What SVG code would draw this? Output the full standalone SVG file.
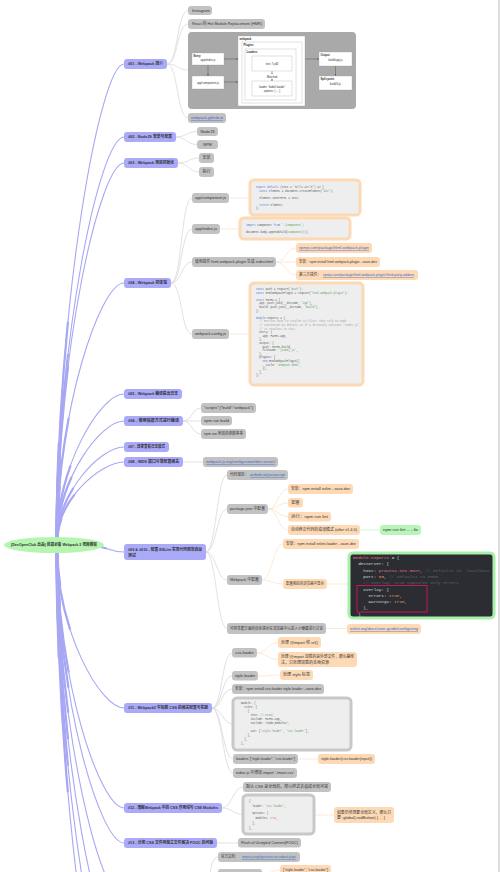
<svg xmlns="http://www.w3.org/2000/svg" width="500" height="872" viewBox="0 0 500 872">
<defs>
<style>
.t{font-family:"Liberation Sans","Noto Sans CJK SC",sans-serif;font-size:4px;fill:#333}
.tb{font-family:"Liberation Sans","Noto Sans CJK SC",sans-serif;font-size:4px;fill:#333;font-weight:bold}
.lk{fill:#3a68c8;text-decoration:underline}
.s{font-family:"Liberation Sans",sans-serif;font-size:2.8px;fill:#333}
.sb{font-family:"Liberation Sans",sans-serif;font-size:2.8px;fill:#333;font-weight:bold}
.p{fill:#aaaaf8}
.g{fill:#c2c2c2}
.o{fill:#fdd9b5}
.gn{fill:#b8f5b8}
.cp{fill:none;stroke:#a7a7f4;stroke-width:1.1}
.cp2{fill:none;stroke:#a7a7f4;stroke-width:2.2;stroke-dasharray:45 200}
.cp3{fill:none;stroke:#a7a7f4;stroke-width:3.2;stroke-dasharray:20 200}
.cg{fill:none;stroke:#d9d9d9;stroke-width:0.8}
.co{fill:none;stroke:#fde3ca;stroke-width:0.8}
.cgn{fill:none;stroke:#c8f5c8;stroke-width:0.8}
.cb{fill:#eeeeee;stroke:#fcd9b4;stroke-width:3}
.cbg{fill:#eeeeee;stroke:#c8c8c8;stroke-width:3}
.c{font-family:"Liberation Mono",monospace;font-size:2.7px;fill:#555;white-space:pre}
.k{fill:#4a7bd0}
.st{fill:#58a05a}
.cm{fill:#a0a1a7}
.d{font-family:"Liberation Mono",monospace;font-size:4.3px;fill:#d8d8d8;white-space:pre}
.box{fill:#fff;stroke:#9a9a9a;stroke-width:0.3}
.ar{fill:none;stroke:#444;stroke-width:0.4;marker-end:url(#ah)}
</style>
<marker id="ah" viewBox="0 0 6 6" refX="5" refY="3" markerWidth="4" markerHeight="4" orient="auto"><path d="M0,0 L6,3 L0,6 z" fill="#444"/></marker>
</defs>
<rect width="500" height="872" fill="#fff"/>
<line x1="499" y1="0" x2="499" y2="872" stroke="#bbb" stroke-width="1"/>

<g id="connectors">
<g id="root-links">
<path class="cp" d="M57 540 C57 302 100 64 124 64"/>
<path class="cp" d="M57 540 C57 338 100 137 124 137"/>
<path class="cp" d="M57 540 C57 352 100 163 124 163"/>
<path class="cp" d="M57 540 C57 412 100 283 124 283"/>
<path class="cp" d="M57 540 C57 467 100 394 124 394"/>
<path class="cp" d="M57 540 C57 481 100 421 124 421"/>
<path class="cp" d="M57 540 C57 494 100 447 124 447"/>
<path class="cp" d="M57 540 C57 501 100 462 124 462"/>
<path class="cp" d="M92 546 C108 546 108 552 124 552"/>
<path class="cp" d="M57 550 C57 629 100 708 124 708"/>
<path class="cp" d="M57 550 C57 679 100 808 124 808"/>
<path class="cp" d="M57 550 C57 697 100 843 124 843"/>
<path class="cp" d="M57 550 C57 725 100 900 124 900"/>
<path class="cp" d="M57 550 C57 755 100 960 124 960"/>
<path class="cp" d="M57 550 C57 785 100 1020 124 1020"/>
<path class="cp" d="M57 550 C57 815 100 1080 124 1080"/>
<path class="cp2" pathLength="100" d="M57 540 C57 302 100 64 124 64"/>
<path class="cp2" pathLength="100" d="M57 540 C57 338 100 137 124 137"/>
<path class="cp2" pathLength="100" d="M57 540 C57 352 100 163 124 163"/>
<path class="cp2" pathLength="100" d="M57 540 C57 412 100 283 124 283"/>
<path class="cp2" pathLength="100" d="M57 540 C57 467 100 394 124 394"/>
<path class="cp2" pathLength="100" d="M57 540 C57 481 100 421 124 421"/>
<path class="cp2" pathLength="100" d="M57 540 C57 494 100 447 124 447"/>
<path class="cp2" pathLength="100" d="M57 540 C57 501 100 462 124 462"/>
<path class="cp2" pathLength="100" d="M92 546 C108 546 108 552 124 552"/>
<path class="cp2" pathLength="100" d="M57 550 C57 629 100 708 124 708"/>
<path class="cp2" pathLength="100" d="M57 550 C57 679 100 808 124 808"/>
<path class="cp2" pathLength="100" d="M57 550 C57 697 100 843 124 843"/>
<path class="cp2" pathLength="100" d="M57 550 C57 725 100 900 124 900"/>
<path class="cp2" pathLength="100" d="M57 550 C57 755 100 960 124 960"/>
<path class="cp2" pathLength="100" d="M57 550 C57 785 100 1020 124 1020"/>
<path class="cp2" pathLength="100" d="M57 550 C57 815 100 1080 124 1080"/>
<path class="cp3" pathLength="100" d="M57 540 C57 302 100 64 124 64"/>
<path class="cp3" pathLength="100" d="M57 540 C57 338 100 137 124 137"/>
<path class="cp3" pathLength="100" d="M57 540 C57 352 100 163 124 163"/>
<path class="cp3" pathLength="100" d="M57 540 C57 412 100 283 124 283"/>
<path class="cp3" pathLength="100" d="M57 540 C57 467 100 394 124 394"/>
<path class="cp3" pathLength="100" d="M57 540 C57 481 100 421 124 421"/>
<path class="cp3" pathLength="100" d="M57 540 C57 494 100 447 124 447"/>
<path class="cp3" pathLength="100" d="M57 540 C57 501 100 462 124 462"/>
<path class="cp3" pathLength="100" d="M57 550 C57 629 100 708 124 708"/>
<path class="cp3" pathLength="100" d="M57 550 C57 679 100 808 124 808"/>
<path class="cp3" pathLength="100" d="M57 550 C57 697 100 843 124 843"/>
<path class="cp3" pathLength="100" d="M57 550 C57 725 100 900 124 900"/>
<path class="cp3" pathLength="100" d="M57 550 C57 755 100 960 124 960"/>
<path class="cp3" pathLength="100" d="M57 550 C57 785 100 1020 124 1020"/>
<path class="cp3" pathLength="100" d="M57 550 C57 815 100 1080 124 1080"/>
</g>
<path class="cg" d="M167 64 C178 64 177 10.5 188 10.5"/>
<path class="cg" d="M167 64 C178 64 177 24 188 24"/>
<path class="cg" d="M167 64 C178 64 177 70 188 70"/>
<path class="cg" d="M167 64 C178 64 177 118 188 118"/>
<path class="cg" d="M176 137 C186 137 187 131.5 197 131.5"/>
<path class="cg" d="M176 137 C186 137 187 144.5 197 144.5"/>
<path class="cg" d="M178 163 C188 163 189 158 199 158"/>
<path class="cg" d="M178 163 C188 163 189 172 199 172"/>
<path class="cg" d="M171 283 C182 283 181 198 192 198"/>
<path class="cg" d="M171 283 C182 283 181 229 192 229"/>
<path class="cg" d="M171 283 C182 283 181 262 192 262"/>
<path class="cg" d="M171 283 C182 283 181 334 192 334"/>
<path class="co" d="M229 198 L250 198"/>
<path class="co" d="M220 229 L240 229"/>
<path class="co" d="M229 334 L250 334"/>
<path class="co" d="M276 262 C286 262 286 248 296 248"/>
<path class="co" d="M276 262 L296 262"/>
<path class="co" d="M276 262 C286 262 286 275 296 275"/>
<path class="cg" d="M183 421 C192 421 192 408 201 408"/>
<path class="cg" d="M183 421 L201 421"/>
<path class="cg" d="M183 421 C192 421 192 434 201 434"/>
<path class="cg" d="M183 462 L203 462"/>
<path class="cg" d="M206 552 C216 552 217 475 227 475"/>
<path class="cg" d="M206 552 C216 552 217 509 227 509"/>
<path class="cg" d="M206 552 C216 552 217 580 227 580"/>
<path class="cg" d="M206 552 C216 552 217 628.5 227 628.5"/>
<path class="co" d="M268 509 C278 509 278 489 288 489"/>
<path class="co" d="M268 509 C278 509 278 503 288 503"/>
<path class="co" d="M268 509 C278 509 278 516.5 288 516.5"/>
<path class="co" d="M268 509 C278 509 278 530 288 530"/>
<path class="cgn" d="M360 530 L380 530"/>
<path class="co" d="M262 580 C272 580 273 544 283 544"/>
<path class="co" d="M262 580 C272 580 273 584 283 584"/>
<path class="co" d="M327 584 L349 584"/>
<path class="co" d="M326 628.5 L347 628.5"/>
<path class="cg" d="M212 708 C222 708 222 653 232 653"/>
<path class="cg" d="M212 708 C222 708 222 676 232 676"/>
<path class="cg" d="M212 708 C222 708 222 689 232 689"/>
<path class="cg" d="M212 708 C222 708 223 724 233 724"/>
<path class="cg" d="M212 708 C222 708 223 759 233 759"/>
<path class="cg" d="M212 708 C222 708 223 773 233 773"/>
<path class="co" d="M257 653 C267 653 268 642.5 278 642.5"/>
<path class="co" d="M257 653 C267 653 268 659.5 278 659.5"/>
<path class="co" d="M258 676 C269 676 269 675 280 675"/>
<path class="co" d="M298 759 L318 759"/>
<path class="cg" d="M222 808 C232 808 233 787 243 787"/>
<path class="cg" d="M222 808 C232 808 233 814.5 243 814.5"/>
<path class="co" d="M314 815 L334 815"/>
<path class="cg" d="M217 843 L238 843"/>
<path class="cg" d="M205 900 C210 880 210 857 218 857"/>
<path class="co" d="M262 874 C270 874 272 870 280 870"/>
</g>

<g id="root">
<ellipse cx="54" cy="545" rx="50" ry="8" fill="#b6f5b0"/>
<text class="tb" x="54" y="546.4" text-anchor="middle" textLength="86" lengthAdjust="spacingAndGlyphs">[DevOpenClub 出品] 前端必备 Webpack 2 视频教程</text>
</g>

<g id="n01"><rect class="p" x="124" y="59" width="43" height="10" rx="3"/><text class="tb" x="128" y="65.4" textLength="35" lengthAdjust="spacingAndGlyphs">#01 - Webpack 简介</text></g>
<g id="n01-instagram"><rect class="g" x="188" y="6" width="24" height="9" rx="3"/><text class="t" x="192" y="11.9">Instagram</text></g>
<g id="n01-hmr"><rect class="g" x="188" y="19" width="77" height="10" rx="3"/><text class="t" x="192" y="25.4" textLength="70" lengthAdjust="spacingAndGlyphs">React 的 Hot Module Replacement (HMR)</text></g>
<g id="n01-diagram">
<rect x="188" y="32" width="168" height="77" rx="4" fill="#a9a9a9"/>
<rect class="box" x="192" y="53" width="32" height="12"/>
<text class="sb" x="193.5" y="56.5">Entry</text>
<text class="s" x="208" y="61" text-anchor="middle">app/index.js</text>
<rect class="box" x="192" y="76" width="32" height="13"/>
<text class="s" x="208" y="83.5" text-anchor="middle">app/component.js</text>
<line class="ar" x1="208" y1="65" x2="208" y2="75.5"/>
<line class="ar" x1="224" y1="59" x2="237.5" y2="59"/>
<line class="ar" x1="224" y1="82" x2="237.5" y2="82"/>
<rect class="box" x="238" y="36" width="67" height="70"/>
<text class="sb" x="239.5" y="39.5">webpack</text>
<rect class="box" x="242" y="42" width="60" height="61"/>
<text class="sb" x="243.5" y="45.5">Plugins</text>
<rect class="box" x="245" y="49" width="51" height="51"/>
<text class="sb" x="246.5" y="52.5">Loaders</text>
<rect class="box" x="252" y="56" width="40" height="15"/>
<text class="s" x="272" y="64.5" text-anchor="middle">test: /\.js$/</text>
<line class="ar" x1="272" y1="71" x2="272" y2="74"/>
<text class="s" x="272" y="77.5" text-anchor="middle">Matched</text>
<line class="ar" x1="272" y1="78.5" x2="272" y2="80.8"/>
<rect class="box" x="252" y="81" width="40" height="15"/>
<text class="s" x="272" y="87.5" text-anchor="middle">loader: 'babel-loader'</text>
<text class="s" x="272" y="91.5" text-anchor="middle">options: { ... }</text>
<line class="ar" x1="305" y1="59" x2="318.5" y2="59"/>
<rect class="box" x="319" y="52" width="33" height="14"/>
<text class="sb" x="320.5" y="55.5">Output</text>
<text class="s" x="335.5" y="61" text-anchor="middle">build/app.js</text>
<line class="ar" x1="335.5" y1="66" x2="335.5" y2="75.5"/>
<rect class="box" x="319" y="76" width="33" height="14"/>
<text class="sb" x="320.5" y="79.5">Split point</text>
<text class="s" x="335.5" y="85" text-anchor="middle">build/0.js</text>
</g>
<g id="n01-link"><rect class="g" x="188" y="113" width="38" height="10" rx="3"/><text class="t lk" x="191" y="119.4" textLength="32" lengthAdjust="spacingAndGlyphs">webpack.github.io</text></g>

<g id="n02"><rect class="p" x="124" y="132" width="52" height="10" rx="3"/><text class="tb" x="128" y="138.4" textLength="44" lengthAdjust="spacingAndGlyphs">#02 - NodeJS 安装与配置</text></g>
<g id="n02-node"><rect class="g" x="197" y="127" width="21" height="9" rx="3"/><text class="t" x="207.5" y="132.9" text-anchor="middle">NodeJS</text></g>
<g id="n02-npm"><rect class="g" x="197" y="140" width="21" height="9" rx="3"/><text class="t" x="207.5" y="145.9" text-anchor="middle">NPM</text></g>

<g id="n03"><rect class="p" x="124" y="158" width="54" height="10" rx="3"/><text class="tb" x="128" y="164.4" textLength="46" lengthAdjust="spacingAndGlyphs">#03 - Webpack 项目初始化</text></g>
<g id="n03-a"><rect class="g" x="199" y="153" width="15" height="10" rx="3"/><text class="t" x="206.5" y="159.4" text-anchor="middle">安装</text></g>
<g id="n03-b"><rect class="g" x="199" y="167" width="15" height="10" rx="3"/><text class="t" x="206.5" y="173.4" text-anchor="middle">执行</text></g>

<g id="n04"><rect class="p" x="124" y="278" width="47" height="10" rx="3"/><text class="tb" x="128" y="284.4" textLength="39" lengthAdjust="spacingAndGlyphs">#04 - Webpack 初体验</text></g>
<g id="n04-comp"><rect class="g" x="192" y="193" width="37" height="10" rx="3"/><text class="t" x="195" y="199.4" textLength="31" lengthAdjust="spacingAndGlyphs">app/component.js</text></g>
<g id="n04-comp-code">
<rect class="cb" x="250" y="180" width="110" height="35" rx="4"/>
<text class="c" x="256" y="188"><tspan class="k">export default</tspan> (text = <tspan class="st">'Hello world'</tspan>) =&gt; {</text>
<text class="c" x="256" y="191.5">  <tspan class="k">const</tspan> element = document.createElement(<tspan class="st">'div'</tspan>);</text>
<text class="c" x="256" y="198.5">  element.innerHTML = text;</text>
<text class="c" x="256" y="205.5">  <tspan class="k">return</tspan> element;</text>
<text class="c" x="256" y="209">};</text>
</g>
<g id="n04-index"><rect class="g" x="192" y="224" width="28" height="10" rx="3"/><text class="t" x="195" y="230.4" textLength="22" lengthAdjust="spacingAndGlyphs">app/index.js</text></g>
<g id="n04-index-code">
<rect class="cb" x="240" y="218" width="110" height="21" rx="4"/>
<text class="c" x="246" y="225.5"><tspan class="k">import</tspan> component <tspan class="k">from</tspan> <tspan class="st">'./component'</tspan>;</text>
<text class="c" x="246" y="233">document.body.appendChild(<tspan class="st">component()</tspan>);</text>
</g>
<g id="n04-plugin"><rect class="g" x="192" y="257" width="84" height="10" rx="3"/><text class="t" x="195" y="263.4" textLength="78" lengthAdjust="spacingAndGlyphs">使用插件 html-webpack-plugin 生成 index.html</text></g>
<g id="n04-plugin-link"><rect class="o" x="296" y="243" width="76" height="10" rx="3"/><text class="t lk" x="299" y="249.4" textLength="70" lengthAdjust="spacingAndGlyphs">npmjs.com/package/html-webpack-plugin</text></g>
<g id="n04-plugin-install"><rect class="o" x="296" y="257" width="84" height="10" rx="3"/><text class="t" x="299" y="263.4" textLength="78" lengthAdjust="spacingAndGlyphs">安装：npm install html-webpack-plugin --save-dev</text></g>
<g id="n04-plugin-third"><rect class="o" x="296" y="270" width="122" height="10" rx="3"/><text class="t" x="299" y="276.4" textLength="22" lengthAdjust="spacingAndGlyphs">第三方插件：</text><text class="t lk" x="323" y="276.4" textLength="91" lengthAdjust="spacingAndGlyphs">npmjs.com/package/html-webpack-plugin#third-party-addons</text></g>
<g id="n04-config"><rect class="g" x="192" y="329" width="37" height="10" rx="3"/><text class="t" x="195" y="335.4" textLength="31" lengthAdjust="spacingAndGlyphs">webpack.config.js</text></g>
<g id="n04-config-code">
<rect class="cb" x="250" y="283" width="113" height="102" rx="4"/>
<text class="c" x="256" y="290"><tspan class="k">const</tspan> path = require(<tspan class="st">'path'</tspan>);</text>
<text class="c" x="256" y="293.6"><tspan class="k">const</tspan> HtmlWebpackPlugin = require(<tspan class="st">'html-webpack-plugin'</tspan>);</text>
<text class="c" x="256" y="300.8"><tspan class="k">const</tspan> PATHS = {</text>
<text class="c" x="256" y="304.4">  app: path.join(__dirname, <tspan class="st">'app'</tspan>),</text>
<text class="c" x="256" y="308">  build: path.join(__dirname, <tspan class="st">'build'</tspan>),</text>
<text class="c" x="256" y="311.6">};</text>
<text class="c" x="256" y="318.8"><tspan class="k">module</tspan>.exports = {</text>
<text class="c cm" x="256" y="322.4">  // Entries have to resolve to files! They rely on Node</text>
<text class="c cm" x="256" y="326">  // convention by default so if a directory contains *index.js*,</text>
<text class="c cm" x="256" y="329.6">  // it resolves to that.</text>
<text class="c" x="256" y="333.2">  entry: {</text>
<text class="c" x="256" y="336.8">    app: PATHS.app,</text>
<text class="c" x="256" y="340.4">  },</text>
<text class="c" x="256" y="344">  output: {</text>
<text class="c" x="256" y="347.6">    path: PATHS.build,</text>
<text class="c" x="256" y="351.2">    filename: <tspan class="st">'[name].js'</tspan>,</text>
<text class="c" x="256" y="354.8">  },</text>
<text class="c" x="256" y="358.4">  plugins: [</text>
<text class="c" x="256" y="362">    <tspan class="k">new</tspan> HtmlWebpackPlugin({</text>
<text class="c" x="256" y="365.6">      title: <tspan class="st">'Webpack demo'</tspan>,</text>
<text class="c" x="256" y="369.2">    }),</text>
<text class="c" x="256" y="372.8">  ],</text>
<text class="c" x="256" y="376.4">};</text>
</g>

<g id="n05"><rect class="p" x="124" y="389" width="58" height="10" rx="3"/><text class="tb" x="128" y="395.4" textLength="50" lengthAdjust="spacingAndGlyphs">#05 - Webpack 编译输出日志</text></g>

<g id="n06"><rect class="p" x="124" y="416" width="59" height="10" rx="3"/><text class="tb" x="128" y="422.4" textLength="51" lengthAdjust="spacingAndGlyphs">#06 - 使用快捷方式进行编译</text></g>
<g id="n06-a"><rect class="g" x="201" y="403" width="55" height="10" rx="3"/><text class="t" x="204" y="409.4" textLength="49" lengthAdjust="spacingAndGlyphs">"scripts":{"build":"webpack"}</text></g>
<g id="n06-b"><rect class="g" x="201" y="416" width="31" height="9.5" rx="3"/><text class="t" x="204" y="422.2" textLength="25" lengthAdjust="spacingAndGlyphs">npm run build</text></g>
<g id="n06-c"><rect class="g" x="201" y="429" width="45" height="10" rx="3"/><text class="t" x="204" y="435.4" textLength="39" lengthAdjust="spacingAndGlyphs">npm run 附加的参数等等</text></g>

<g id="n07"><rect class="p" x="124" y="442" width="45" height="10" rx="3"/><text class="tb" x="128" y="448.4" textLength="37" lengthAdjust="spacingAndGlyphs">#07 - 改变查看日志模式</text></g>

<g id="n08"><rect class="p" x="124" y="457" width="59" height="10" rx="3"/><text class="tb" x="128" y="463.4" textLength="51" lengthAdjust="spacingAndGlyphs">#08 - WDS 端口号等配置相关</text></g>
<g id="n08-link"><rect class="g" x="203" y="457" width="75" height="10" rx="3"/><text class="t lk" x="206" y="463.4" textLength="69" lengthAdjust="spacingAndGlyphs">webpack.js.org/configuration/dev-server/</text></g>

<g id="n09"><rect class="p" x="124" y="544" width="82" height="16" rx="3"/><text class="tb" x="128" y="550.5" textLength="74" lengthAdjust="spacingAndGlyphs">#09 &amp; #010 - 配置 ESLint 实现代码规范自动</text><text class="tb" x="128" y="556.5">测试</text></g>
<g id="n09-std"><rect class="g" x="227" y="470" width="61" height="10" rx="3"/><text class="t" x="230" y="476.4" textLength="18" lengthAdjust="spacingAndGlyphs">代码规范：</text><text class="t lk" x="250" y="476.4" textLength="35" lengthAdjust="spacingAndGlyphs">airbnb.io/javascript</text></g>
<g id="n09-pkg"><rect class="g" x="227" y="504" width="41" height="10" rx="3"/><text class="t" x="230" y="510.4" textLength="35" lengthAdjust="spacingAndGlyphs">package.json 中配置</text></g>
<g id="n09-pkg-a"><rect class="o" x="288" y="484" width="65" height="10" rx="3"/><text class="t" x="291" y="490.4" textLength="59" lengthAdjust="spacingAndGlyphs">安装：npm install eslint --save-dev</text></g>
<g id="n09-pkg-b"><rect class="o" x="288" y="498" width="15" height="9.5" rx="3"/><text class="t" x="295.5" y="504.2" text-anchor="middle">配置</text></g>
<g id="n09-pkg-c"><rect class="o" x="288" y="512" width="43" height="9.5" rx="3"/><text class="t" x="291" y="518.2" textLength="37" lengthAdjust="spacingAndGlyphs">运行：npm run lint</text></g>
<g id="n09-pkg-d"><rect class="o" x="288" y="525" width="72" height="10" rx="3"/><text class="t" x="291" y="531.4" textLength="66" lengthAdjust="spacingAndGlyphs">自动修正代码的错误模式 (after v1.4.0)</text></g>
<g id="n09-fix"><rect class="gn" x="380" y="525" width="41" height="10" rx="3"/><text class="t" x="383" y="531.4" textLength="35" lengthAdjust="spacingAndGlyphs">npm run lint -- --fix</text></g>
<g id="n09-wp"><rect class="g" x="227" y="575" width="35" height="10" rx="3"/><text class="t" x="230" y="581.4" textLength="29" lengthAdjust="spacingAndGlyphs">Webpack 中配置</text></g>
<g id="n09-wp-a"><rect class="o" x="283" y="539" width="76" height="10" rx="3"/><text class="t" x="286" y="545.4" textLength="70" lengthAdjust="spacingAndGlyphs">安装：npm install eslint-loader --save-dev</text></g>
<g id="n09-wp-b"><rect class="o" x="283" y="579" width="44" height="10" rx="3"/><text class="t" x="286" y="585.4" textLength="38" lengthAdjust="spacingAndGlyphs">配置相应的浏览器中显示</text></g>
<g id="n09-wp-code">
<rect x="349" y="553" width="145" height="65" rx="4" fill="#2b2d33" stroke="#a8f0a8" stroke-width="3"/>
<text class="d" x="353" y="559"><tspan fill="#e0728a">module.exports</tspan> = {</text>
<text class="d" x="353" y="565.3">  devServer: {</text>
<text class="d" x="353" y="571.6">    host: <tspan fill="#e0728a">process.env.HOST</tspan>, <tspan fill="#5c6370">// Defaults to `localhost`</tspan></text>
<text class="d" x="353" y="577.9">    port: <tspan fill="#e59a5c">80</tspan>, <tspan fill="#5c6370">// Defaults to 8080</tspan></text>
<text class="d" x="353" y="584.2">    <tspan fill="#5c6370">// overlay: true captures only errors</tspan></text>
<text class="d" x="353" y="590.5">    overlay: {</text>
<text class="d" x="353" y="596.8">      errors: <tspan fill="#e59a5c">true</tspan>,</text>
<text class="d" x="353" y="603.1">      warnings: <tspan fill="#e59a5c">true</tspan>,</text>
<text class="d" x="353" y="609.4">    },</text>
<text class="d" x="353" y="615.7">  },</text>
<rect x="357" y="585.5" width="70" height="26.5" fill="none" stroke="#c2185b" stroke-width="1"/>
</g>
<g id="n09-perf"><rect class="g" x="227" y="623" width="99" height="11" rx="3"/><text class="t" x="230" y="629.9" textLength="93" lengthAdjust="spacingAndGlyphs">可将性能方面的优化提示在浏览器中以进入小便捷进行讨论</text></g>
<g id="n09-perf-link"><rect class="o" x="347" y="624" width="74" height="10" rx="3"/><text class="t lk" x="350" y="630.4" textLength="68" lengthAdjust="spacingAndGlyphs">eslint.org/docs/user-guide/configuring</text></g>

<g id="n11"><rect class="p" x="124" y="703" width="88" height="10" rx="3"/><text class="tb" x="128" y="709.4" textLength="80" lengthAdjust="spacingAndGlyphs">#11 - Webpack2 中加载 CSS 的相关配置与实践</text></g>
<g id="n11-css"><rect class="g" x="232" y="648" width="25" height="9.5" rx="3"/><text class="t" x="244.5" y="654.2" text-anchor="middle">css-loader</text></g>
<g id="n11-css-a"><rect class="o" x="278" y="637" width="43" height="11" rx="3"/><text class="t" x="281" y="643.9" textLength="37" lengthAdjust="spacingAndGlyphs">处理 @import 和 url()</text></g>
<g id="n11-css-b"><rect class="o" x="278" y="652" width="79" height="15" rx="3"/><text class="t" x="281" y="658.2" textLength="73" lengthAdjust="spacingAndGlyphs">处理 @import 加载的是外部文件，那么路径</text><text class="t" x="281" y="663.6">注，只处理加载的本地资源</text></g>
<g id="n11-style"><rect class="g" x="232" y="671" width="26" height="9.5" rx="3"/><text class="t" x="245" y="677.2" text-anchor="middle">style-loader</text></g>
<g id="n11-style-a"><rect class="o" x="280" y="670" width="33" height="10" rx="3"/><text class="t" x="283" y="676.4" textLength="27" lengthAdjust="spacingAndGlyphs">处理 style 标签</text></g>
<g id="n11-install"><rect class="g" x="232" y="684" width="92" height="10" rx="3"/><text class="t" x="235" y="690.4" textLength="86" lengthAdjust="spacingAndGlyphs">安装：npm install css-loader style-loader --save-dev</text></g>
<g id="n11-code">
<rect class="cbg" x="233" y="698" width="118" height="52" rx="4"/>
<text class="c" x="241" y="704">module: {</text>
<text class="c" x="241" y="708">  rules: [</text>
<text class="c" x="241" y="712">    {</text>
<text class="c" x="241" y="716">      test: <tspan class="st">/\.css$/</tspan>,</text>
<text class="c" x="241" y="720">      include: PATHS.app,</text>
<text class="c" x="241" y="724">      exclude: /node_modules/,</text>
<text class="c" x="241" y="732">      use: [<tspan class="st">'style-loader'</tspan>, <tspan class="st">'css-loader'</tspan>],</text>
<text class="c" x="241" y="736">    },</text>
<text class="c" x="241" y="740">  ],</text>
<text class="c" x="241" y="744">},</text>
</g>
<g id="n11-loaders"><rect class="g" x="233" y="754" width="65" height="10" rx="3"/><text class="t" x="236" y="760.4" textLength="59" lengthAdjust="spacingAndGlyphs">loaders: ["style-loader", "css-loader"]</text></g>
<g id="n11-loaders-a"><rect class="o" x="318" y="754" width="57" height="10" rx="3"/><text class="t" x="321" y="760.4" textLength="51" lengthAdjust="spacingAndGlyphs">style.loader(css.loader(input))</text></g>
<g id="n11-index"><rect class="g" x="233" y="768" width="64" height="10" rx="3"/><text class="t" x="236" y="774.4" textLength="58" lengthAdjust="spacingAndGlyphs">index.js 中增加 import './main.css'</text></g>

<g id="n12"><rect class="p" x="124" y="803" width="98" height="10" rx="3"/><text class="tb" x="128" y="809.4" textLength="90" lengthAdjust="spacingAndGlyphs">#12 - 理解Webpack 中的 CSS 作用域与 CSS Modules</text></g>
<g id="n12-a"><rect class="g" x="243" y="782" width="88" height="10" rx="3"/><text class="t" x="246" y="788.4" textLength="82" lengthAdjust="spacingAndGlyphs">默认 CSS 是全局的，所以样式会造成全局冲突</text></g>
<g id="n12-code">
<rect class="cbg" x="243" y="795" width="71" height="39" rx="4"/>
<text class="c" x="249" y="802">{</text>
<text class="c" x="249" y="807">  loader: <tspan class="st">'css-loader'</tspan>,</text>
<text class="c" x="249" y="814">  options: {</text>
<text class="c" x="249" y="819">    modules: <tspan fill="#e0728a">true</tspan>,</text>
<text class="c" x="249" y="824">  },</text>
<text class="c" x="249" y="829">},</text>
</g>
<g id="n12-b"><rect class="o" x="334" y="807" width="60" height="16" rx="3"/><text class="t" x="337" y="813.6" textLength="54" lengthAdjust="spacingAndGlyphs">如果仍然想要全局定义，那么只</text><text class="t" x="337" y="819.4" textLength="48" lengthAdjust="spacingAndGlyphs">要 :global(.redButton) { ... }</text></g>

<g id="n13"><rect class="p" x="124" y="838" width="93" height="10" rx="3"/><text class="tb" x="128" y="844.4" textLength="85" lengthAdjust="spacingAndGlyphs">#13 - 分离 CSS 文件到独立文件解决 FOUC 的问题</text></g>
<g id="n13-a"><rect class="g" x="238" y="838" width="63" height="9.5" rx="3"/><text class="t" x="241" y="844.2" textLength="57" lengthAdjust="spacingAndGlyphs">Flash of Unstyled Content(FOUC)</text></g>

<g id="n14-doc"><rect class="g" x="218" y="852" width="82" height="10" rx="3"/><text class="t" x="221" y="858.4" textLength="17" lengthAdjust="spacingAndGlyphs">官方文档：</text><text class="t lk" x="242" y="858.4" textLength="54" lengthAdjust="spacingAndGlyphs">webpack.js.org/plugins/extract-text-webpack-plugin/</text></g>
<g id="n14-b"><rect class="g" x="218" y="869" width="44" height="10" rx="3"/></g>
<g id="n14-c"><rect class="o" x="280" y="865" width="51" height="10" rx="3"/><text class="t" x="283" y="871.4" textLength="45" lengthAdjust="spacingAndGlyphs">["style-loader", "css-loader"]</text></g>
</svg>
